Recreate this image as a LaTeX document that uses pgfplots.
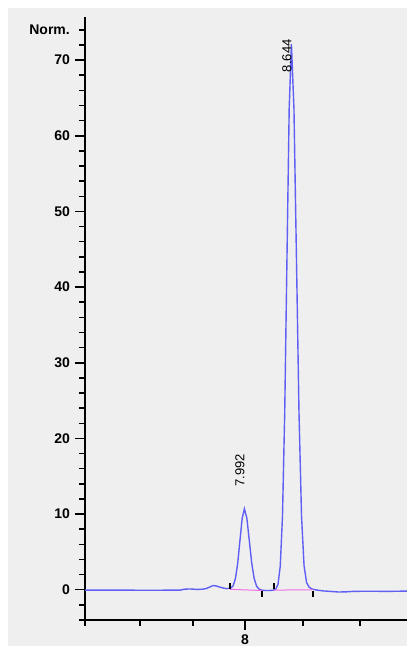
\documentclass[border=0pt]{standalone}
\usepackage{fontspec}
\setmainfont{Liberation Sans}
\usepackage{pgfplots}
\pgfplotsset{compat=1.18}
\usetikzlibrary{backgrounds}
\definecolor{bg}{RGB}{239,239,239}
\definecolor{sig}{RGB}{95,95,245}
\definecolor{bl}{RGB}{240,110,230}
\begin{document}
\begin{tikzpicture}
\begin{axis}[
  scale only axis, width=322bp, height=603bp,
  xmin=5.781, xmax=10.247, ymin=-4, ymax=75.7,
  axis lines*=left,
  axis line style={black, line width=1.6bp, -},
  tick align=outside,
  major tick length=10bp, minor tick length=5.5bp,
  major tick style={black, line width=1.5bp},
  minor tick style={black, line width=1.5bp},
  xtick={8}, xticklabels={\textbf{8}},
  minor xtick={5.781,6.544,7.279,8.804,9.595},
  ytick={0,10,20,30,40,50,60,70},
  yticklabels={\textbf{0},\textbf{10},\textbf{20},\textbf{30},\textbf{40},\textbf{50},\textbf{60},\textbf{70}},
  minor ytick={-4,-2,2,4,6,8,12,14,16,18,22,24,26,28,32,34,36,38,42,44,46,48,52,54,56,58,62,64,66,68,72,74},
  ticklabel style={font=\fontsize{14bp}{16bp}\selectfont},
  xticklabel style={yshift=-1bp},
  yticklabel style={xshift=-1.5bp},
]
\addplot[sig, line width=1.4bp] coordinates {
(5.781,-0.05) (6.0,-0.06) (6.3,-0.05) (6.6,-0.07) (6.9,-0.06) (7.1,-0.05)
(7.17,0.08) (7.24,0.10) (7.32,0.05) (7.40,0.06) (7.46,0.15) (7.51,0.35)
(7.556,0.55) (7.60,0.50) (7.65,0.35) (7.70,0.22) (7.744,0.15) (7.775,0.17)
(7.806,0.24) (7.837,0.55) (7.868,1.50) (7.899,3.50) (7.930,6.50) (7.961,9.44)
(7.992,10.70) (8.026,9.44) (8.060,6.49) (8.094,3.47) (8.128,1.45) (8.162,0.45)
(8.196,0.08) (8.230,-0.05) (8.28,-0.10) (8.33,-0.10) (8.37,-0.08) (8.396,-0.05)
(8.427,0.08) (8.458,0.72) (8.489,3.10) (8.520,9.70) (8.551,23.4) (8.582,43.7)
(8.613,63.6) (8.644,72.1) (8.679,63.6) (8.714,43.7) (8.749,23.4) (8.784,9.76)
(8.819,3.20) (8.854,0.95) (8.889,0.35) (8.924,0.12) (8.96,0.02) (9.00,-0.05)
(9.08,-0.15) (9.18,-0.22) (9.30,-0.30) (9.40,-0.28) (9.50,-0.22) (9.65,-0.20)
(9.80,-0.20) (9.95,-0.22) (10.10,-0.20) (10.247,-0.18)
};
\addplot[bl, line width=1.0bp] coordinates {(7.792,0.05) (8.236,-0.10)};
\addplot[bl, line width=1.0bp] coordinates {(8.402,-0.05) (8.943,0.0)};
\addplot[black, line width=1.3bp] coordinates {(7.792,0.1) (7.792,0.9)};
\addplot[black, line width=1.3bp] coordinates {(8.236,-0.15) (8.236,-0.95)};
\addplot[black, line width=1.3bp] coordinates {(8.402,0.1) (8.402,0.9)};
\addplot[black, line width=1.3bp] coordinates {(8.943,-0.15) (8.943,-0.95)};
\node[rotate=90, anchor=base west, inner sep=0pt, font=\fontsize{13bp}{15bp}\selectfont] at (axis cs:7.992,13.6) {7.992};
\node[rotate=90, anchor=base west, inner sep=0pt, font=\fontsize{13bp}{15bp}\selectfont] at (axis cs:8.644,68.4) {8.644};
\end{axis}
\node[anchor=east, inner sep=0pt, font=\fontsize{14bp}{16bp}\selectfont\bfseries] at (-15bp,590bp) {Norm.};
\pgfresetboundingbox
\path[use as bounding box] (-85bp,-26bp) rectangle (322bp,620bp);
\begin{scope}[on background layer]
\fill[white] (-85bp,-26bp) rectangle (322bp,620bp);
\fill[bg] (-77bp,-26bp) rectangle (322bp,612bp);
\end{scope}
\end{tikzpicture}
\end{document}
